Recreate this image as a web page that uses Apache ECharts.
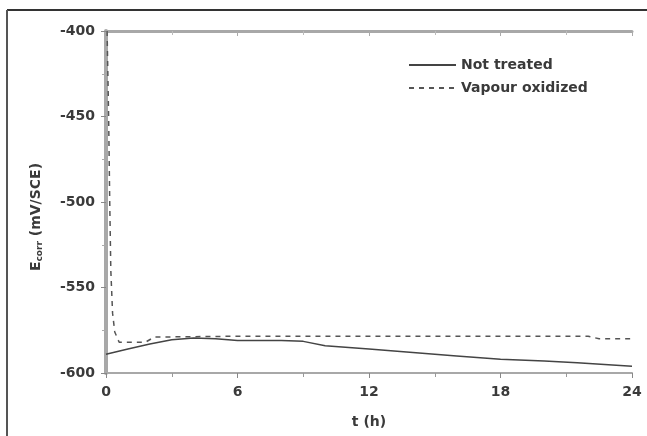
<!DOCTYPE html>
<html><head><meta charset="utf-8">
<script src="https://cdn.jsdelivr.net/npm/echarts@6/dist/echarts.min.js"></script>
<style>html,body{margin:0;padding:0;background:#fff}#c{width:647px;height:436px}</style>
</head><body><div id="c"></div>
<script>
var xTicks = [0, 6, 12, 18, 24];
var yTicks = [-600, -550, -500, -450, -400];
var seriesNames = ['Not treated', 'Vapour oxidized'];
var notTreatedT = [0, 1, 2, 3, 4, 5, 6, 8, 9, 10, 12, 14, 16, 18, 20, 21.5, 24];
var notTreatedE = [-589, -586, -583, -580.5, -579.5, -580, -581, -581, -581.5, -584, -586, -588, -590, -592, -593, -594, -596];
var vapourT = [0.05, 0.12, 0.17, 0.22, 0.3, 0.4, 0.6, 1.8, 2.2, 6, 12, 18, 22, 22.5, 24];
var vapourE = [-400, -450, -500, -540, -565, -576, -582, -582, -579, -578.5, -578.5, -578.5, -578.5, -580, -580];

function pairs(a, b) { return a.map(function (v, i) { return [v, b[i]]; }); }
var chart = echarts.init(document.getElementById('c'));
var font = 'DejaVu Sans, sans-serif';
var txt = '#3a3a3a';
var axisGray = '#a8a8a8';
chart.setOption({
  animation: false,
  backgroundColor: '#fff',
  grid: { left: 106, right: 15, top: 31, bottom: 63 },
  legend: {
    left: 403, top: 53, orient: 'vertical', itemGap: 9, itemWidth: 47, itemHeight: 16,
    itemStyle: { opacity: 0 },
    textStyle: { fontFamily: font, fontSize: 14, fontWeight: 'bold', color: txt },
    data: seriesNames
  },
  xAxis: [{
    type: 'value', min: xTicks[0], max: xTicks[xTicks.length - 1], interval: 6,
    name: 't (h)', nameLocation: 'middle', nameGap: 42,
    nameTextStyle: { fontFamily: font, fontSize: 14, fontWeight: 'bold', color: txt },
    axisLine: { lineStyle: { color: axisGray, width: 2 } },
    axisTick: { inside: false, length: 5, lineStyle: { color: '#888' } },
    minorTick: { show: true, splitNumber: 2, length: 4, lineStyle: { color: '#999' } },
    axisLabel: { fontFamily: font, fontSize: 14, fontWeight: 'bold', color: txt, margin: 12 },
    splitLine: { show: false }
  }, {
    type: 'value', position: 'top', min: 0, max: 24, interval: 6,
    axisLine: { lineStyle: { color: axisGray, width: 3 } },
    axisTick: { inside: true, length: 5, lineStyle: { color: '#aaa' } },
    minorTick: { show: true, splitNumber: 2, length: 4, lineStyle: { color: '#bbb' } },
    axisLabel: { show: false }, splitLine: { show: false }
  }],
  yAxis: [{
    type: 'value', min: yTicks[0], max: yTicks[yTicks.length - 1], interval: 50,
    name: '{e|E}{s|corr}{e| (mV/SCE)}', nameLocation: 'middle', nameGap: 62, nameRotate: 90,
    nameTextStyle: { padding: [0, 30, 0, 0], rich: {
      e: { fontFamily: font, fontSize: 14, fontWeight: 'bold', color: txt },
      s: { fontFamily: font, fontSize: 9, fontWeight: 'bold', color: txt, verticalAlign: 'bottom', padding: [6, 0, 0, 0] }
    } },
    axisLine: { lineStyle: { color: axisGray, width: 4 } },
    axisTick: { inside: false, length: 5, lineStyle: { color: '#888' } },
    minorTick: { show: true, splitNumber: 2, length: 4, lineStyle: { color: '#999' } },
    axisLabel: { fontFamily: font, fontSize: 14, fontWeight: 'bold', color: txt, margin: 11 },
    splitLine: { show: false }
  }, {
    type: 'value', position: 'right', min: -600, max: -400, interval: 50,
    axisLine: { show: true, lineStyle: { color: axisGray, width: 2 } },
    axisTick: { show: true, inside: true, length: 5, lineStyle: { color: '#888' } },
    minorTick: { show: true, splitNumber: 2, length: 4, lineStyle: { color: '#aaa' } },
    axisLabel: { show: false }, splitLine: { show: false }
  }],
  graphic: [
    { type: 'line', shape: { x1: 7, y1: 10, x2: 647, y2: 10 }, style: { stroke: '#333', lineWidth: 2 } },
    { type: 'line', shape: { x1: 7, y1: 10, x2: 7, y2: 436 }, style: { stroke: '#555', lineWidth: 2 } }
  ],
  series: [{
    name: seriesNames[0], type: 'line', showSymbol: false, symbol: 'none',
    data: pairs(notTreatedT, notTreatedE),
    lineStyle: { color: '#444', width: 1.5, type: 'solid' }, itemStyle: { color: '#444' }
  }, {
    name: seriesNames[1], type: 'line', showSymbol: false, symbol: 'none',
    data: pairs(vapourT, vapourE),
    lineStyle: { color: '#555', width: 1.5, type: [5, 5] }, itemStyle: { color: '#555' }
  }]
});
</script></body></html>
